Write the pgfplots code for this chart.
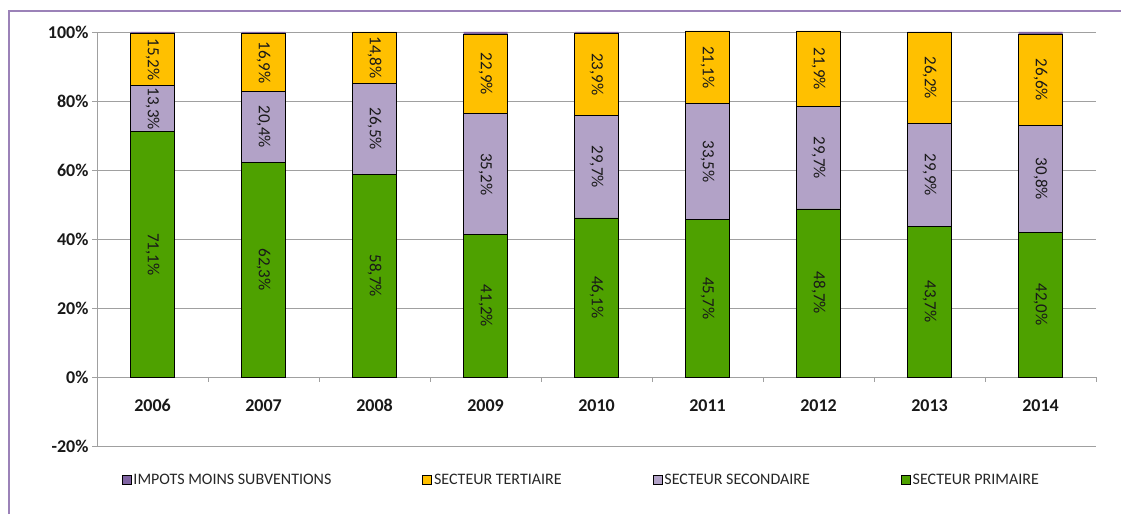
\documentclass[border=0pt]{standalone}
\usepackage{fontspec}
\setmainfont{Carlito}
\usepackage{pgfplots}
\pgfplotsset{compat=1.18}
\definecolor{cPrim}{HTML}{4EA100}
\definecolor{cSec}{HTML}{B2A2C7}
\definecolor{cTer}{HTML}{FFC000}
\definecolor{cImp}{HTML}{8064A2}
\definecolor{cGrid}{HTML}{A0A0A0}
\definecolor{cFrame}{HTML}{9B82B8}
\pgfplotsset{
  lbl/.style={
    nodes near coords={\pgfmathprintnumber[fixed,fixed zerofill,precision=1,use comma,assume math mode=true]{\pgfplotspointmeta}\%},
  }
}
\begin{document}
\begin{tikzpicture}[x=1pt,y=1pt]
\useasboundingbox (0,0) rectangle (1121,514);
\fill[white] (0,0) rectangle (1121,514);
\draw[cFrame, line width=1.3pt] (9,0) -- (9,503) -- (1121,503);
\begin{axis}[
  at={(97pt,68pt)}, anchor=south west,
  scale only axis, width=999pt, height=414pt,
  ybar stacked, bar width=44pt, clip=false,
  xmin=-0.5, xmax=8.5, ymin=-20, ymax=100,
  axis x line*=middle, axis y line*=left,
  axis line style={draw=cGrid, line width=0.9pt},
  hide obscured x ticks=false, hide obscured y ticks=false,
  ytick={-20,0,20,40,60,80,100},
  yticklabels={-20\%,0\%,20\%,40\%,60\%,80\%,100\%},
  ymajorgrids, major grid style={draw=cGrid, line width=0.9pt},
  tick align=outside, major tick length=5pt,
  tick style={draw=cGrid, line width=0.9pt},
  xtick={0,...,8},
  xticklabels={2006,2007,2008,2009,2010,2011,2012,2013,2014},
  major x tick style={draw=none},
  extra x ticks={-0.5,0.5,1.5,2.5,3.5,4.5,5.5,6.5,7.5,8.5},
  extra x tick labels={},
  extra x tick style={major x tick style={draw=cGrid, line width=0.9pt}},
  ticklabel style={font=\fontsize{18}{18}\selectfont\bfseries, text=black!90},
  x tick label style={yshift=-14pt},
  every node near coord/.append style={rotate=-90, anchor=center, inner sep=0pt, font=\fontsize{17}{17}\selectfont, text=black!90},
  legend style={at={(0.485,-0.082)}, anchor=center, draw=none, fill=none,
    legend columns=4, font=\fontsize{16}{16}\selectfont, text=black!85,
    /tikz/every even column/.append style={column sep=89pt}},
  reverse legend,
  legend image code/.code={\draw[#1] (0pt,-4.5pt) rectangle (9pt,4.5pt);},
]
\addplot[fill=cPrim, draw=black, line width=0.8pt, lbl] coordinates {
(0,71.1) (1,62.3) (2,58.7) (3,41.2) (4,46.1) (5,45.7) (6,48.7) (7,43.7) (8,42.0)};
\addplot[fill=cSec, draw=black, line width=0.8pt, lbl] coordinates {
(0,13.3) (1,20.4) (2,26.5) (3,35.2) (4,29.7) (5,33.5) (6,29.7) (7,29.9) (8,30.8)};
\addplot[fill=cTer, draw=black, line width=0.8pt, lbl] coordinates {
(0,15.2) (1,16.9) (2,14.8) (3,22.9) (4,23.9) (5,21.1) (6,21.9) (7,26.2) (8,26.6)};
\addplot[fill=cImp, draw=none] coordinates {
(0,0.4) (1,0.4) (2,0.0) (3,0.7) (4,0.3) (5,0.0) (6,0.0) (7,0.2) (8,0.6)};
\legend{SECTEUR PRIMAIRE, SECTEUR SECONDAIRE, SECTEUR TERTIAIRE, IMPOTS MOINS SUBVENTIONS}
\end{axis}
\end{tikzpicture}
\end{document}
